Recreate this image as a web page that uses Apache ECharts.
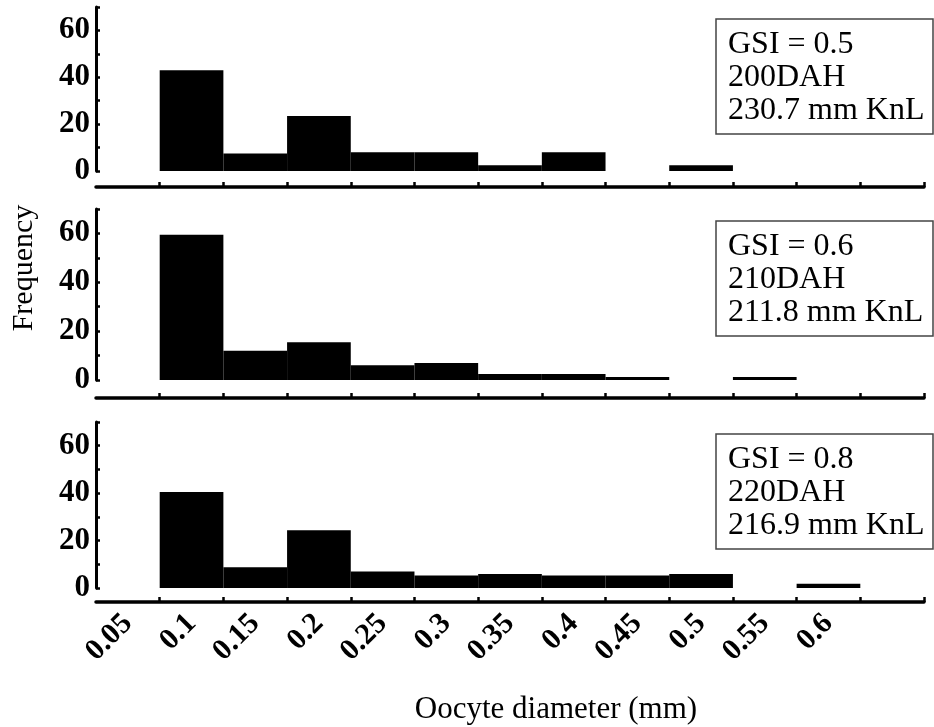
<!DOCTYPE html>
<html>
<head>
<meta charset="utf-8">
<script src="https://cdn.jsdelivr.net/npm/echarts@6/dist/echarts.min.js"></script>
<style>
  html, body { margin: 0; padding: 0; background: #fff; }
  #chart { width: 934px; height: 727px; }
</style>
</head>
<body>
<div id="chart"></div>
<script>
// bin labels (oocyte diameter, mm)
const categories = ["0.05", "0.1", "0.15", "0.2", "0.25", "0.3", "0.35", "0.4", "0.45", "0.5", "0.55", "0.6", ""];

// frequencies
const freq200 = [0, 43, 7.5, 23.5, 8, 8, 2.5, 8, 0, 2.5, 0, 0, 0];
const freq210 = [0, 59.5, 12, 15.5, 6, 7, 2.5, 2.5, 1.2, 0, 1.2, 0, 0];
const freq220 = [0, 40.5, 8.8, 24.4, 7, 5.3, 5.9, 5.3, 5.3, 5.9, 0, 1.8, 0];

const boxTexts = [
  ["GSI = 0.5", "200DAH", "230.7 mm KnL"],
  ["GSI = 0.6", "210DAH", "211.8 mm KnL"],
  ["GSI = 0.8", "220DAH", "216.9 mm KnL"]
];

const serif = '"Liberation Serif", "Times New Roman", serif';

// panel layout: top of plot, height, offset of x axis below zero
const panels = [
  { top: 7, height: 164, offset: 16, data: freq200 },
  { top: 209, height: 171, offset: 18, data: freq210 },
  { top: 422, height: 166, offset: 14, data: freq220 }
];

const chart = echarts.init(document.getElementById("chart"));

const grids = [], xAxes = [], yAxes = [], series = [], graphics = [];

panels.forEach((p, i) => {
  const last = i === panels.length - 1;
  grids.push({ left: 96, right: 10, top: p.top, height: p.height });
  xAxes.push({
    type: "category",
    gridIndex: i,
    data: categories,
    offset: p.offset,
    axisLine: { onZero: false, lineStyle: { color: "#000", width: 3.5 } },
    axisTick: {
      show: true,
      inside: true,
      length: 5,
      interval: (idx) => idx > 0,
      lineStyle: { color: "#000", width: 2.5 }
    },
    axisLabel: {
      show: last,
      interval: 0,
      rotate: 45,
      margin: 17,
      color: "#000",
      fontFamily: serif,
      fontWeight: "bold",
      fontSize: 30
    },
    splitLine: { show: false }
  });
  yAxes.push({
    type: "value",
    gridIndex: i,
    min: 0,
    max: 70,
    interval: 10,
    axisLine: { show: true, lineStyle: { color: "#000", width: 3 } },
    axisTick: { show: true, inside: true, length: 4, lineStyle: { color: "#000", width: 2.5 } },
    axisLabel: {
      margin: 6,
      color: "#000",
      fontFamily: serif,
      fontWeight: "bold",
      fontSize: 31,
      formatter: (v) => (v % 20 === 0 && v < 70 ? String(v) : "")
    },
    splitLine: { show: false }
  });
  series.push({
    type: "bar",
    xAxisIndex: i,
    yAxisIndex: i,
    data: p.data,
    barCategoryGap: "0%",
    itemStyle: { color: "#000" },
    silent: true
  });

  // info box in the upper right of each panel
  const bx = 716, by = p.top + 12;
  graphics.push({
    type: "rect",
    shape: { x: bx, y: by, width: 217, height: 115 },
    style: { fill: "#fff", stroke: "#444", lineWidth: 1.5 }
  });
  graphics.push({
    type: "text",
    x: bx + 12,
    y: by + 9,
    style: {
      text: boxTexts[i].join("\n"),
      font: "32px " + serif,
      lineHeight: 33,
      fill: "#000"
    }
  });
});

// axis titles
graphics.push({
  type: "text",
  x: 556,
  y: 710,
  style: { text: "Oocyte diameter (mm)", font: "31px " + serif, fill: "#000", align: "center", verticalAlign: "middle" }
});
graphics.push({
  type: "text",
  x: 24,
  y: 268,
  rotation: Math.PI / 2,
  style: { text: "Frequency", font: "30px " + serif, fill: "#000", align: "center", verticalAlign: "middle" }
});

chart.setOption({
  animation: false,
  backgroundColor: "#fff",
  grid: grids,
  xAxis: xAxes,
  yAxis: yAxes,
  series: series,
  graphic: graphics
});
</script>
</body>
</html>
